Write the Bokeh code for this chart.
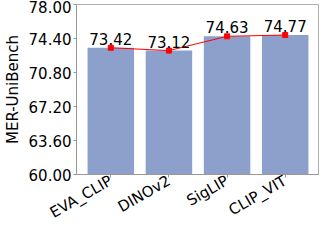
from bokeh.plotting import figure
from bokeh.models import ColumnDataSource, FixedTicker, PrintfTickFormatter, Range1d
from bokeh.core.properties import value
from bokeh.embed import file_html
from bokeh.resources import INLINE
import math

categories = ["EVA_CLIP", "DINOv2", "SigLIP", "CLIP_VIT"]
scores = [73.42, 73.12, 74.63, 74.77]
y_ticks = [60.0, 63.6, 67.2, 70.8, 74.4, 78.0]

Y0 = y_ticks[0]
xs = list(range(len(categories)))
src = ColumnDataSource(dict(x=xs, y=scores, lab=["%.2f" % s for s in scores]))

p = figure(width=319, height=232, output_backend="svg", toolbar_location=None,
           x_range=Range1d(-0.59, len(categories) - 1 + 0.59),
           y_range=Range1d(Y0, y_ticks[-1]),
           min_border_left=0, min_border_right=0, min_border_top=4, min_border_bottom=0)

FONT = "DejaVu Sans"
p.vbar(x="x", top="y", bottom=Y0, width=0.8, source=src,
       fill_color="#8da0cb", line_color=None)
p.line(x="x", y="y", source=src, line_color="red", line_width=1)
p.scatter(x="x", y="y", source=src, marker="square", size=5,
          fill_color="red", line_color="red")
p.text(x="x", y="y", text="lab", source=src, text_align="center",
       text_baseline="bottom", y_offset=-3, text_font=value(FONT),
       text_font_size="15px", text_color="black")

p.xgrid.visible = False
p.ygrid.visible = False
p.outline_line_color = "#b0b0b0"
p.outline_line_width = 1

p.xaxis.ticker = FixedTicker(ticks=xs)
p.xaxis.major_label_overrides = {i: c for i, c in zip(xs, categories)}
p.xaxis.major_label_orientation = math.pi / 6
p.yaxis.ticker = FixedTicker(ticks=y_ticks)
p.yaxis.formatter = PrintfTickFormatter(format="%.2f")
p.yaxis.axis_label = "MER-UniBench"

for ax in (p.xaxis[0], p.yaxis[0]):
    ax.axis_line_color = "#999999"
    ax.major_tick_line_color = "#999999"
    ax.major_tick_in = 0
    ax.major_tick_out = 3
    ax.minor_tick_line_color = None
    ax.major_label_text_font = FONT
    ax.major_label_text_font_size = "15px"
    ax.major_label_text_color = "black"
    ax.major_label_text_line_height = 1.0
    ax.axis_label_text_font = FONT
    ax.axis_label_text_font_size = "15px"
    ax.axis_label_text_font_style = "normal"
    ax.axis_label_text_color = "black"
    ax.axis_label_standoff = 4
    ax.major_label_standoff = 2

open("out.html", "w").write(file_html(p, INLINE))
